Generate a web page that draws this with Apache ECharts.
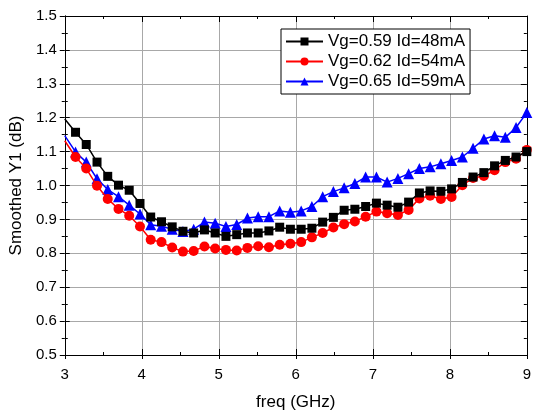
<!DOCTYPE html>
<html><head><meta charset="utf-8">
<script src="https://cdn.jsdelivr.net/npm/echarts@6/dist/echarts.min.js"></script>
<style>html,body{margin:0;padding:0;background:#fff}#c{width:534px;height:416px}</style>
</head><body><div id="c"></div>
<script>
const freq = [3.000,3.140,3.279,3.419,3.558,3.698,3.837,3.977,4.116,4.256,4.395,4.535,4.674,4.814,4.953,
  5.093,5.233,5.372,5.512,5.651,5.791,5.930,6.070,6.209,6.349,6.488,6.628,6.767,6.907,7.047,
  7.186,7.326,7.465,7.605,7.744,7.884,8.023,8.163,8.302,8.442,8.581,8.721,8.860,9.000];
const vg059 = [1.196,1.157,1.121,1.069,1.027,1.001,0.986,0.947,0.907,0.893,0.878,0.865,0.860,0.869,0.860,
  0.850,0.855,0.860,0.860,0.866,0.877,0.871,0.871,0.874,0.892,0.906,0.927,0.930,0.938,0.948,
  0.942,0.936,0.951,0.978,0.984,0.983,0.990,1.009,1.025,1.038,1.058,1.074,1.084,1.100];
const vg062 = [1.132,1.084,1.050,0.999,0.960,0.931,0.911,0.879,0.840,0.833,0.817,0.805,0.807,0.820,0.814,
  0.810,0.808,0.816,0.821,0.818,0.825,0.828,0.833,0.847,0.860,0.876,0.886,0.894,0.908,0.923,
  0.918,0.913,0.928,0.962,0.970,0.960,0.966,1.001,1.022,1.028,1.045,1.069,1.079,1.105];
const vg065 = [1.147,1.099,1.069,1.020,0.988,0.967,0.942,0.916,0.884,0.880,0.871,0.864,0.871,0.892,0.889,
  0.879,0.885,0.904,0.908,0.908,0.925,0.921,0.925,0.938,0.967,0.982,0.993,1.006,1.025,1.025,
  1.010,1.021,1.035,1.050,1.055,1.064,1.074,1.084,1.110,1.137,1.147,1.142,1.171,1.215];
const names = ['Vg=0.59 Id=48mA','Vg=0.62 Id=54mA','Vg=0.65 Id=59mA'];
const colors = ['#000000','#ff0000','#0000ff'];
const symbols = ['rect','circle','triangle'];
const sizes = [9,10,11];

function mk(vals){
  return freq.map((f,i)=> i===0 ? {value:[f,vals[i]], symbol:'none'} : [f,vals[i]]);
}
const F = 'Liberation Sans, Arial, sans-serif';
const chart = echarts.init(document.getElementById('c'), null, {renderer:'canvas'});
const axLine = {show:true, lineStyle:{color:'#000', width:1}};
function xa(opts){ return Object.assign({type:'value', min:3, max:9, interval:1,
  axisLine:axLine, splitLine:{show:false}, axisLabel:{show:false}, axisTick:{show:false}, minorTick:{show:false}}, opts); }
function ya(opts){ return Object.assign({type:'value', min:0.5, max:1.5, interval:0.1,
  axisLine:axLine, splitLine:{show:false}, axisLabel:{show:false}, axisTick:{show:false}, minorTick:{show:false}}, opts); }

chart.setOption({
  animation:false,
  backgroundColor:'#fff',
  grid:{left:63, right:4, top:16, bottom:59, containLabel:false},
  legend:{
    orient:'vertical', left:281, top:29,
    backgroundColor:'#fff', borderColor:'#000', borderWidth:1,
    padding:[4,5,4,4], itemGap:3, itemWidth:37, itemHeight:10,
    textStyle:{fontFamily:F, fontSize:17, color:'#000'},
    data:names
  },
  xAxis:[
    xa({position:'bottom',
      name:'freq (GHz)', nameLocation:'middle', nameGap:39,
      nameTextStyle:{fontFamily:F, fontSize:17, color:'#000'},
      splitLine:{show:true, lineStyle:{color:'#a8a8a8', width:1}},
      axisLabel:{show:true, margin:12, fontFamily:F, fontSize:15, color:'#000', formatter:v=>String(v)},
      axisTick:{show:true, inside:true, length:6, lineStyle:{color:'#000'}},
      minorTick:{show:true, splitNumber:2, length:3, lineStyle:{color:'#000'}}
    }),
    xa({position:'bottom', axisTick:{show:true, inside:false, length:4, lineStyle:{color:'#000'}}}),
    xa({position:'top', axisTick:{show:true, inside:true, length:6, lineStyle:{color:'#000'}},
      minorTick:{show:true, splitNumber:2, length:3, lineStyle:{color:'#000'}}})
  ],
  yAxis:[
    ya({position:'left',
      name:'Smoothed Y1 (dB)', nameLocation:'middle', nameGap:36, nameRotate:90,
      nameTextStyle:{fontFamily:F, fontSize:17, color:'#000'},
      splitLine:{show:true, lineStyle:{color:'#a8a8a8', width:1}},
      axisLabel:{show:true, margin:8, fontFamily:F, fontSize:15, color:'#000', formatter:v=>v.toFixed(1)},
      axisTick:{show:true, inside:true, length:5, lineStyle:{color:'#000'}},
      minorTick:{show:true, splitNumber:2, length:3, lineStyle:{color:'#000'}}
    }),
    ya({position:'left', axisTick:{show:true, inside:false, length:5, lineStyle:{color:'#000'}},
      minorTick:{show:true, splitNumber:2, length:3, lineStyle:{color:'#000'}}}),
    ya({position:'right', axisTick:{show:true, inside:true, length:6, lineStyle:{color:'#000'}},
      minorTick:{show:true, splitNumber:2, length:3, lineStyle:{color:'#000'}}})
  ],
  series:[vg059, vg062, vg065].map((vals,k)=>({
    name:names[k], type:'line', xAxisIndex:0, yAxisIndex:0,
    data:mk(vals), symbol:symbols[k], symbolSize:sizes[k], showAllSymbol:true,
    lineStyle:{color:colors[k], width:1.5},
    itemStyle:{color:colors[k], borderWidth:0},
    z: 10 - k
  }))
});
</script></body></html>
